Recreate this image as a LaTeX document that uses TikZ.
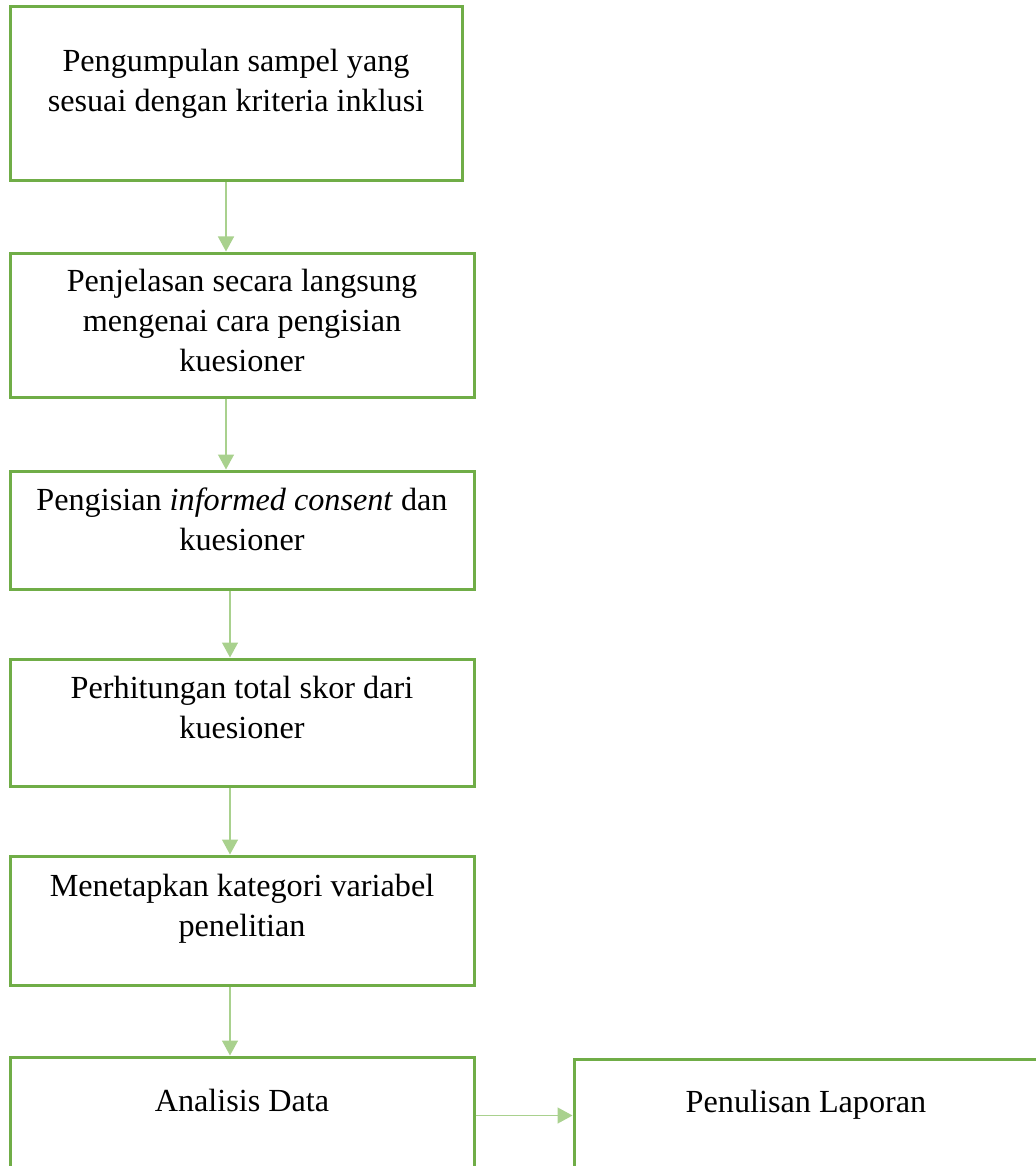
\documentclass[tikz,border=0pt]{standalone}
\usepackage{fontspec}
\setmainfont{Liberation Serif}
\usetikzlibrary{arrows.meta}
\definecolor{boxgreen}{HTML}{70AD47}
\definecolor{arrgreen}{HTML}{A9D18E}
\begin{document}
\begin{tikzpicture}[x=1pt,y=-1pt,
  flowbox/.style={draw=boxgreen, line width=3pt, inner sep=0pt, minimum width=464pt},
  flowtext/.style={font=\fontsize{32.2}{40}\selectfont, align=center, anchor=north, inner sep=0pt},
  flowarrow/.style={draw=arrgreen, line width=1.4pt, -{Triangle[width=16pt,length=15pt]}}]
\useasboundingbox (0,0) rectangle (1035,1166);
% boxes
\node[flowbox, minimum width=452pt, minimum height=174pt] (b1) at (236,94) {};
\node[flowbox, minimum height=144pt] (b2) at (242,325) {};
\node[flowbox, minimum height=118pt] (b3) at (242,530) {};
\node[flowbox, minimum height=127pt] (b4) at (242,722.5) {};
\node[flowbox, minimum height=129pt] (b5) at (242,920.5) {};
\node[flowbox, minimum height=153pt] (b6) at (242,1133.5) {};
\node[flowbox, minimum height=151pt] (b7) at (806,1134.5) {};
% texts
\node[flowtext] (t1) at ([yshift=-43pt]b1.north) {Pengumpulan sampel yang\\sesuai dengan kriteria inklusi};
\node[flowtext] (t2) at ([yshift=-17pt]b2.north) {Penjelasan secara langsung\\mengenai cara pengisian\\kuesioner};
\node[flowtext] (t3) at ([yshift=-18pt]b3.north) {Pengisian \textit{informed consent} dan\\kuesioner};
\node[flowtext] (t4) at ([yshift=-18pt]b4.north) {Perhitungan total skor dari\\kuesioner};
\node[flowtext] (t5) at ([yshift=-19pt]b5.north) {Menetapkan kategori variabel\\penelitian};
\node[flowtext] (t6) at ([yshift=-33pt]b6.north) {Analisis Data};
\node[flowtext] (t7) at ([yshift=-32pt]b7.north) {Penulisan Laporan};
% connectors
\draw[flowarrow] ([xshift=-10pt]b1.south) -- ([xshift=-16pt]b2.north);
\draw[flowarrow] ([xshift=-16pt]b2.south) -- ([xshift=-16pt]b3.north);
\draw[flowarrow] ([xshift=-12pt]b3.south) -- ([xshift=-12pt]b4.north);
\draw[flowarrow] ([xshift=-12pt]b4.south) -- ([xshift=-12pt]b5.north);
\draw[flowarrow] ([xshift=-12pt]b5.south) -- ([xshift=-12pt]b6.north);
\draw[flowarrow] ([yshift=-60pt]b6.north east) -- ([yshift=-58pt]b7.north west);
\end{tikzpicture}
\end{document}
